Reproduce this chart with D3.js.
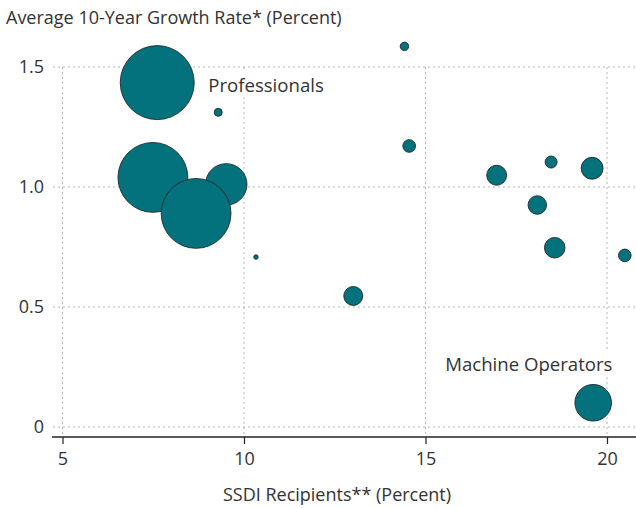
<!DOCTYPE html>
<html>
<head>
<meta charset="utf-8">
<script src="https://cdn.jsdelivr.net/npm/d3@7"></script>
<style>
  body { margin: 0; background: #fff; }
  svg text { font-family: "Open Sans", sans-serif; fill: #333; }
</style>
</head>
<body>
<div id="chart"></div>
<script>
// SSDI recipients (%) vs average 10-year growth rate (%), bubble = occupation size
const ssdi = [7.61, 9.29, 7.49, 9.51, 8.68, 10.33, 13.01, 14.42, 14.55, 16.96, 18.46, 19.59, 18.08, 18.56, 20.49, 19.62];
const growth = [1.435, 1.311, 1.04, 1.011, 0.89, 0.708, 0.546, 1.586, 1.171, 1.049, 1.104, 1.078, 0.925, 0.747, 0.715, 0.101];
const sizes = [137, 1.6, 122, 43, 122, 0.5, 9, 1.8, 4, 10, 3.6, 12, 8.6, 10.6, 4, 33.5];
const names = ['Professionals', '', '', '', '', '', '', '', '', '', '', '', '', '', '', 'Machine Operators'];
const xTicks = [5, 10, 15, 20];
const yTicks = [0, 0.5, 1.0, 1.5];

const width = 636, height = 508;

const svg = d3.select('#chart').append('svg')
  .attr('width', width)
  .attr('height', height);

const x = d3.scaleLinear().domain([5, 20]).range([62.5, 607]);
const y = d3.scaleLinear().domain([0, 1.5]).range([427, 67]);
const r = d3.scaleSqrt().domain([0, 137]).range([0, 37]);

const axisY = 437;
const fs = 18;

// dotted grid
svg.append('g')
  .selectAll('line')
  .data(yTicks)
  .enter().append('line')
  .attr('x1', 53).attr('x2', width)
  .attr('y1', d => y(d)).attr('y2', d => y(d))
  .attr('stroke', '#b5b5b5')
  .attr('stroke-width', 1)
  .attr('stroke-dasharray', '2,3');

svg.append('g')
  .selectAll('line')
  .data(xTicks)
  .enter().append('line')
  .attr('x1', d => x(d)).attr('x2', d => x(d))
  .attr('y1', y(1.5)).attr('y2', axisY)
  .attr('stroke', '#b5b5b5')
  .attr('stroke-width', 1)
  .attr('stroke-dasharray', '2,3');

// x axis
const xAxis = svg.append('g')
  .attr('transform', `translate(0,${axisY})`)
  .call(d3.axisBottom(x).tickValues(xTicks).tickSize(7).tickSizeOuter(0).tickPadding(8));
xAxis.select('.domain').remove();
xAxis.selectAll('line').attr('stroke', '#222').attr('stroke-width', 1.2);
xAxis.selectAll('text').attr('font-size', fs).attr('font-family', '"Open Sans", sans-serif').attr('fill', '#333');
svg.append('line')
  .attr('x1', 52).attr('x2', width)
  .attr('y1', axisY).attr('y2', axisY)
  .attr('stroke', '#222').attr('stroke-width', 1.4);

// y labels
svg.append('g')
  .selectAll('text')
  .data(yTicks)
  .enter().append('text')
  .attr('x', 44)
  .attr('y', d => y(d))
  .attr('dy', '0.35em')
  .attr('text-anchor', 'end')
  .attr('font-size', fs)
  .text(d => d === 0 ? '0' : d3.format('.1f')(d));

// titles
svg.append('text')
  .attr('x', 6).attr('y', 24)
  .attr('font-size', fs)
  .text('Average 10-Year Growth Rate* (Percent)');

svg.append('text')
  .attr('x', 337).attr('y', 501)
  .attr('text-anchor', 'middle')
  .attr('font-size', fs)
  .text('SSDI Recipients** (Percent)');

// bubbles
const pts = ssdi.map((d, i) => ({ x: d, y: growth[i], s: sizes[i], name: names[i] }));

svg.append('g')
  .selectAll('circle')
  .data(pts)
  .enter().append('circle')
  .attr('cx', d => x(d.x))
  .attr('cy', d => y(d.y))
  .attr('r', d => r(d.s))
  .attr('fill', '#03727c')
  .attr('stroke', '#1e2a2c')
  .attr('stroke-width', 0.9);

// labels with white backing
const labelPos = {
  'Professionals': { dx: 51, dy: 9, anchor: 'start' },
  'Machine Operators': { dx: -148, dy: -32, anchor: 'start' }
};

pts.filter(d => d.name).forEach(d => {
  const p = labelPos[d.name];
  const g = svg.append('g');
  const t = g.append('text')
    .attr('x', x(d.x) + p.dx)
    .attr('y', y(d.y) + p.dy)
    .attr('text-anchor', p.anchor)
    .attr('font-size', 18.6)
    .text(d.name);
  const bb = t.node().getBBox();
  g.insert('rect', 'text')
    .attr('x', bb.x - 2).attr('y', bb.y)
    .attr('width', bb.width + 4).attr('height', bb.height)
    .attr('fill', '#fff');
});
</script>
</body>
</html>
